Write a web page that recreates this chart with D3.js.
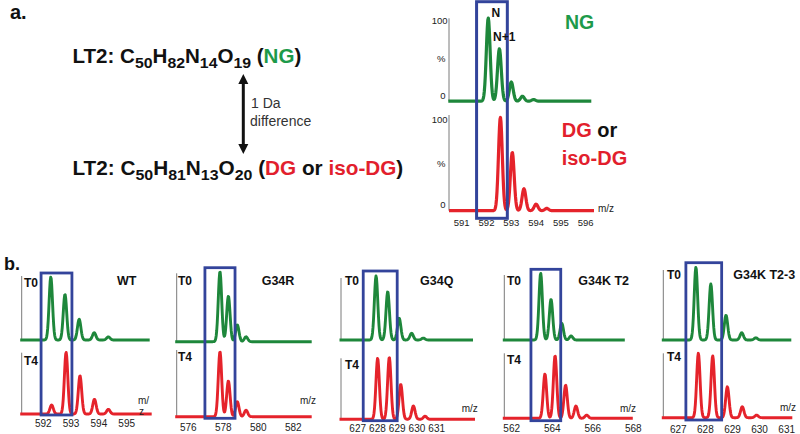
<!DOCTYPE html>
<html><head><meta charset="utf-8">
<script src="https://cdn.jsdelivr.net/npm/d3@7"></script>
<style>body{margin:0;background:#fff}svg{display:block;font-family:"Liberation Sans",Arial,Helvetica,sans-serif}</style>
</head><body><svg id="c" width="800" height="434"></svg>
<script>
// ---------------- data ----------------
const aTicks = [591, 592, 593, 594, 595, 596];
const ngPeaksMz = [592.07, 592.52, 593.0, 593.45, 593.9];
const ngPeaksPct = [100, 63, 23, 6, 2];
const dgPeaksMz = [592.56, 593.04, 593.51, 594.0, 594.43];
const dgPeaksPct = [100, 62.5, 23.5, 7, 2.5];
const aBoxMz = [591.6, 592.84];
const aYLabels = [100, 50, 0];

const bNames = ["WT", "G34R", "G34Q", "G34K T2", "G34K T2-3"];
const bTicks = [[592, 593, 594, 595], [576, 578, 580, 582], [627, 628, 629, 630, 631], [562, 564, 566, 568], [627, 628, 629, 630, 631]];
const t0Mz = [[592.27, 592.78, 593.29, 593.83, 594.34], [577.81, 578.29, 578.8, 579.3], [627.93, 628.52, 629.1, 629.73, 630.32], [563.43, 563.94, 564.47, 564.93], [627.65, 628.2, 628.76, 629.34, 629.86]];
const t0Pct = [[100, 72.5, 33, 11.6, 5], [100, 65, 24, 7], [100, 75.5, 34, 10.5, 3], [100, 61, 25, 6], [100, 77, 34, 10, 3]];
const t4Mz = [[592.3, 592.82, 593.32, 593.84, 594.34], [577.81, 578.29, 578.8, 579.3], [628.01, 628.6, 629.18, 629.82, 630.41], [563.64, 564.14, 564.66, 565.17, 565.7], [627.74, 628.27, 628.81, 629.36, 629.89]];
const t4Pct = [[14.6, 100, 62, 24, 7.6], [100, 55, 23, 10], [98.4, 100, 56.5, 21.5, 5], [70.8, 100, 53, 19.6, 5], [100, 96, 48, 17, 4]];
const bBoxMz = [[591.92, 593.03], [576.95, 578.67], [627.28, 629.0], [562.95, 564.42], [627.28, 628.6]];

// ---------------- style / layout ----------------
const GREEN = "#1e873b", RED = "#e5232b", BLUE = "#33449b", AXIS = "#7a7a7a", TXT = "#222";
const GREEN_T = "#1d9a4a", RED_T = "#e21f2d";
const svg = d3.select("#c");

function spectrumPath(x, y, mz, pct, px0, px1, sigma) {
  const pts = [];
  for (let px = px0; px <= px1 + 0.01; px += 0.5) {
    let v = 0;
    mz.forEach((m, i) => { const d = px - x(m); v += pct[i] * Math.exp(-d * d / (2 * sigma * sigma)); });
    pts.push([px, y(v)]);
  }
  return d3.line()(pts);
}

// ---------------- panel a: formulas ----------------
svg.append("text").attr("x", 10).attr("y", 19).attr("font-size", 20).attr("font-weight", "bold").attr("fill", "#111").text("a.");

function formula(x, y, targetW, parts) {
  const g = svg.append("g");
  const t = g.append("text").attr("font-size", 19.5).attr("font-weight", "bold").attr("fill", "#111");
  let sub = false;
  parts.forEach(p => {
    const ts = t.append("tspan").text(p.t);
    if (p.sub) { ts.attr("font-size", 15).attr("dy", sub ? 0 : 5); sub = true; }
    else { if (sub) ts.attr("dy", -5); sub = false; }
    if (p.c) ts.attr("fill", p.c);
  });
  const w = t.node().getComputedTextLength();
  g.attr("transform", `translate(${x},${y}) scale(${targetW / w},1)`);
}
formula(72.5, 63, 229, [
  {t: "LT2: C"}, {t: "50", sub: true}, {t: "H"}, {t: "82", sub: true}, {t: "N"}, {t: "14", sub: true},
  {t: "O"}, {t: "19", sub: true}, {t: " ("}, {t: "NG", c: GREEN_T}, {t: ")"}]);
formula(72.5, 175, 331, [
  {t: "LT2: C"}, {t: "50", sub: true}, {t: "H"}, {t: "81", sub: true}, {t: "N"}, {t: "13", sub: true},
  {t: "O"}, {t: "20", sub: true}, {t: " ("}, {t: "DG", c: RED_T}, {t: " or "}, {t: "iso-DG", c: RED_T}, {t: ")"}]);

// double arrow
const arrX = 243.3, arrTop = 74, arrBot = 154;
svg.append("line").attr("x1", arrX).attr("x2", arrX).attr("y1", arrTop + 8).attr("y2", arrBot - 8)
  .attr("stroke", "#111").attr("stroke-width", 3);
svg.append("path").attr("d", `M${arrX},${arrTop} L${arrX - 5},${arrTop + 10} L${arrX + 5},${arrTop + 10} Z`).attr("fill", "#111");
svg.append("path").attr("d", `M${arrX},${arrBot} L${arrX - 5},${arrBot - 10} L${arrX + 5},${arrBot - 10} Z`).attr("fill", "#111");
svg.append("text").attr("x", 251).attr("y", 108).attr("font-size", 14).attr("fill", "#333").text("1 Da");
svg.append("text").attr("x", 250).attr("y", 126).attr("font-size", 14).attr("fill", "#333").text("difference");

// ---------------- panel a: spectra ----------------
const ax = d3.scaleLinear().domain([591, 596]).range([461.7, 585.7]);
const ayTop = d3.scaleLinear().domain([0, 100]).range([101.2, 18]);
const ayBot = d3.scaleLinear().domain([0, 100]).range([210.7, 117.3]);
const aAxisX = 449;
const gA = svg.append("g");
[[ayTop, 18.3], [ayBot, 115]].forEach(([sc, top]) => {
  gA.append("line").attr("x1", aAxisX).attr("x2", aAxisX).attr("y1", top).attr("y2", sc(0))
    .attr("stroke", AXIS).attr("stroke-width", 1);
  aYLabels.forEach(v => {
    const off = v === 100 ? 5.5 : v === 50 ? 2.5 : -2.5;
    gA.append("text").attr("x", v === 100 ? 447.5 : 445.5).attr("y", sc(v) + off).attr("text-anchor", "end")
      .attr("font-size", 9.5).attr("fill", TXT).text(v === 50 ? "%" : v);
  });
});
gA.append("path").attr("d", spectrumPath(ax, ayTop, ngPeaksMz, ngPeaksPct, 448.3, 591.7, 1.9))
  .attr("fill", "none").attr("stroke", GREEN).attr("stroke-width", 3.2).attr("stroke-linejoin", "round");
gA.append("path").attr("d", spectrumPath(ax, ayBot, dgPeaksMz, dgPeaksPct, 449, 594, 1.9))
  .attr("fill", "none").attr("stroke", RED).attr("stroke-width", 3.2).attr("stroke-linejoin", "round");
gA.selectAll("text.xt").data(aTicks).join("text").attr("class", "xt")
  .attr("x", d => ax(d)).attr("y", 226).attr("text-anchor", "middle").attr("font-size", 9.5).attr("fill", TXT).text(d => d);
gA.append("text").attr("x", 598).attr("y", 212).attr("font-size", 10).attr("fill", TXT).text("m/z");
gA.append("rect").attr("x", ax(aBoxMz[0])).attr("y", 1.7).attr("width", ax(aBoxMz[1]) - ax(aBoxMz[0])).attr("height", 216.6)
  .attr("fill", "none").attr("stroke", BLUE).attr("stroke-width", 3);
gA.append("text").attr("x", 491.5).attr("y", 16.5).attr("font-size", 12).attr("font-weight", "bold").attr("fill", "#111").text("N");
gA.append("text").attr("x", 493).attr("y", 40.5).attr("font-size", 12).attr("font-weight", "bold").attr("fill", "#111").text("N+1");
gA.append("text").attr("x", 565).attr("y", 28.5).attr("font-size", 19.5).attr("font-weight", "bold").attr("fill", GREEN_T).text("NG");
const dgT = gA.append("text").attr("x", 561.7).attr("y", 136.7).attr("font-size", 20).attr("font-weight", "bold");
dgT.append("tspan").attr("fill", RED_T).text("DG");
dgT.append("tspan").attr("fill", "#111").text(" or");
gA.append("text").attr("x", 561.7).attr("y", 165).attr("font-size", 20).attr("font-weight", "bold").attr("fill", RED_T).text("iso-DG");

// ---------------- panel b ----------------
svg.append("text").attr("x", 4).attr("y", 269.5).attr("font-size", 18).attr("font-weight", "bold").attr("fill", "#111").text("b.");

const bLayout = [
  {axisX: 21.7, gEnd: 150, rEnd: 152, t1: 43.3, t2: 126.7, gBase: 340, gTop: 277, gAxTop: 276, rBase: 414, rTop: 352.3, rAxTop: 352.7, boxY: [273, 415], t0: [24, 287], t4: [24, 365], name: [117, 284.5], mz: [138, 403.5], wrap: true, tickY: 427},
  {axisX: 176.7, gEnd: 311.7, rEnd: 311.7, t1: 188.3, t2: 293.3, gBase: 341.7, gTop: 271.7, gAxTop: 273.3, rBase: 416.7, rTop: 351.7, rAxTop: 350, boxY: [267.7, 418.3], t0: [178, 284.5], t4: [178, 361], name: [261.7, 284.5], mz: [300, 404], tickY: 431},
  {axisX: 341, gEnd: 473.3, rEnd: 475, t1: 357.7, t2: 436.7, gBase: 340, gTop: 276, gAxTop: 278, rBase: 419.3, rTop: 357.3, rAxTop: 358.3, boxY: [271, 420.7], t0: [345, 284.5], t4: [345, 369], name: [420, 284.5], mz: [461.7, 411.5], tickY: 432},
  {axisX: 504.3, gEnd: 625, rEnd: 633, t1: 511.7, t2: 633.3, gBase: 340, gTop: 273.3, gAxTop: 275, rBase: 418.3, rTop: 355.7, rAxTop: 353.3, boxY: [269.3, 420.7], t0: [507, 284.5], t4: [507, 364], name: [578.3, 284.5], mz: [620, 411.5], tickY: 432},
  {axisX: 663.3, gEnd: 791.7, rEnd: 792.7, t1: 678.3, t2: 786.7, gBase: 340, gTop: 267.3, gAxTop: 270, rBase: 417.7, rTop: 353.3, rAxTop: 353.3, boxY: [262.7, 420], t0: [667, 279], t4: [667, 361], name: [733.3, 279], mz: [780, 410.5], tickY: 433}
];

bNames.forEach((name, i) => {
  const L = bLayout[i];
  const ticks = bTicks[i];
  const x = d3.scaleLinear().domain([ticks[0], ticks[ticks.length - 1]]).range([L.t1, L.t2]);
  const yg = d3.scaleLinear().domain([0, 100]).range([L.gBase, L.gTop]);
  const yr = d3.scaleLinear().domain([0, 100]).range([L.rBase, L.rTop]);
  const g = svg.append("g");
  g.append("line").attr("x1", L.axisX).attr("x2", L.axisX).attr("y1", L.gAxTop).attr("y2", yg(0)).attr("stroke", AXIS).attr("stroke-width", 1);
  g.append("line").attr("x1", L.axisX).attr("x2", L.axisX).attr("y1", L.rAxTop).attr("y2", yr(0)).attr("stroke", AXIS).attr("stroke-width", 1);
  g.append("path").attr("d", spectrumPath(x, yg, t0Mz[i], t0Pct[i], L.axisX - 1.5, L.gEnd, 1.7))
    .attr("fill", "none").attr("stroke", GREEN).attr("stroke-width", 2.9).attr("stroke-linejoin", "round");
  g.append("path").attr("d", spectrumPath(x, yr, t4Mz[i], t4Pct[i], L.axisX - 1.5, L.rEnd, 1.7))
    .attr("fill", "none").attr("stroke", RED).attr("stroke-width", 2.9).attr("stroke-linejoin", "round");
  g.append("text").attr("x", L.t0[0]).attr("y", L.t0[1]).attr("font-size", 12).attr("font-weight", "bold").attr("fill", "#111").text("T0");
  g.append("text").attr("x", L.t4[0]).attr("y", L.t4[1]).attr("font-size", 12).attr("font-weight", "bold").attr("fill", "#111").text("T4");
  g.append("text").attr("x", L.name[0]).attr("y", L.name[1]).attr("font-size", 12.5).attr("font-weight", "bold").attr("fill", "#111").text(name);
  if (L.wrap) {
    g.append("text").attr("x", L.mz[0]).attr("y", L.mz[1]).attr("font-size", 10).attr("fill", TXT).text("m/");
    g.append("text").attr("x", L.mz[0] + 1).attr("y", L.mz[1] + 11.5).attr("font-size", 10).attr("fill", TXT).text("z");
  } else {
    g.append("text").attr("x", L.mz[0]).attr("y", L.mz[1]).attr("font-size", 10).attr("fill", TXT).text("m/z");
  }
  g.selectAll("text.xt").data(ticks).join("text").attr("class", "xt")
    .attr("x", d => x(d)).attr("y", L.tickY).attr("text-anchor", "middle").attr("font-size", 10).attr("fill", TXT).text(d => d);
  const bx = bBoxMz[i];
  g.append("rect").attr("x", x(bx[0])).attr("y", L.boxY[0]).attr("width", x(bx[1]) - x(bx[0])).attr("height", L.boxY[1] - L.boxY[0])
    .attr("fill", "none").attr("stroke", BLUE).attr("stroke-width", 2.8);
});
</script></body></html>
